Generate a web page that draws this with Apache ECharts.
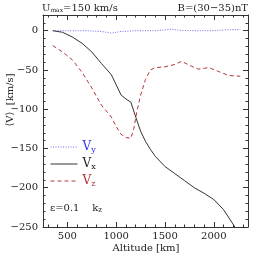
<!DOCTYPE html>
<html>
<head>
<meta charset="utf-8">
<script src="https://cdn.jsdelivr.net/npm/echarts@6/dist/echarts.min.js"></script>
<style>html,body{margin:0;padding:0;background:#fff;}#c{width:258px;height:258px;}</style>
</head>
<body>
<div id="c"></div>
<script>
// ---- data ----
var altVy = [350, 500, 700, 850, 950, 1050, 1200, 1400, 1500, 1550, 1650, 1800, 2000, 2100, 2270];
var vy    = [0, 0, 0, -1, -3, -1, 0, 0, 1, 2, 0.5, 0, 0, 1, 1.5];
var altVx = [350, 450, 550, 650, 750, 850, 950, 1050, 1100, 1150, 1200, 1250, 1300, 1350, 1400, 1500, 1600, 1700, 1800, 1900, 2000, 2100, 2200, 2230];
var vx    = [0, -2, -8, -16, -27, -42, -56, -82, -87, -91, -110, -128, -141, -151, -160, -173, -182, -191, -200, -207, -215, -228, -247, -253];
var altVz = [350, 450, 550, 650, 750, 850, 950, 1000, 1050, 1100, 1150, 1180, 1210, 1250, 1300, 1350, 1400, 1500, 1600, 1670, 1750, 1840, 1950, 2050, 2150, 2270];
var vz    = [-19, -27, -37, -53, -73, -95, -110, -122, -132, -136, -137, -125, -104, -82, -62, -50, -47, -46, -43, -39, -44, -49, -47, -52, -57, -58];
var xMajorTicks = [500, 1000, 1500, 2000];
var xMinorTicks = [300, 400, 600, 700, 800, 900, 1100, 1200, 1300, 1400, 1600, 1700, 1800, 1900, 2100, 2200, 2300];
var yMajorTicks = [-250, -200, -150, -100, -50, 0];
var yMinorTicks = [-240, -230, -220, -210, -190, -180, -170, -160, -140, -130, -120, -110, -90, -80, -70, -60, -40, -30, -20, -10, 10];
var xRange = [250, 2350];
var yRange = [-250, 20];

function pairs(xs, ys) { return xs.map(function (x, i) { return [x, ys[i]]; }); }

var FONT = 'DejaVu Serif';
var TXT = '#222';
var AX = '#333';

function xAx(pos, vals, len, labels, line) {
  return {
    type: 'value', position: pos, min: xRange[0], max: xRange[1],
    axisLine: { show: line, onZero: false, lineStyle: { color: AX, width: 1 } },
    axisTick: { show: true, inside: true, length: len, customValues: vals, lineStyle: { color: AX, width: 1 } },
    axisLabel: { show: labels, customValues: vals, margin: 4, fontFamily: FONT, fontSize: 10, color: TXT,
                 formatter: function (v) { return String(v); } },
    splitLine: { show: false }
  };
}
function yAx(pos, vals, len, labels, line) {
  return {
    type: 'value', position: pos, min: yRange[0], max: yRange[1],
    axisLine: { show: line, onZero: false, lineStyle: { color: AX, width: 1 } },
    axisTick: { show: true, inside: true, length: len, customValues: vals, lineStyle: { color: AX, width: 1 } },
    axisLabel: { show: labels, customValues: vals, margin: 5, fontFamily: FONT, fontSize: 10, color: TXT,
                 formatter: function (v) { return v < 0 ? '\u2212' + Math.abs(v) : String(v); } },
    splitLine: { show: false }
  };
}

var chart = echarts.init(document.getElementById('c'), null, { renderer: 'canvas' });
chart.setOption({
  animation: false,
  backgroundColor: '#fff',
  grid: { left: 43, right: 10, top: 15, bottom: 31, containLabel: false },
  xAxis: [
    xAx('bottom', xMajorTicks, 5, true, true),
    xAx('bottom', xMinorTicks, 2.5, false, false),
    xAx('top', xMajorTicks, 5, false, true),
    xAx('top', xMinorTicks, 2.5, false, false)
  ],
  yAxis: [
    yAx('left', yMajorTicks, 5, true, true),
    yAx('left', yMinorTicks, 2.5, false, false),
    yAx('right', yMajorTicks, 5, false, true),
    yAx('right', yMinorTicks, 2.5, false, false)
  ],
  legend: {
    orient: 'vertical', left: 50, top: 141, padding: 0, itemWidth: 27, itemHeight: 12, itemGap: 4,
    data: ['Vy', 'Vx', 'Vz'],
    itemStyle: { opacity: 0, color: 'rgba(0,0,0,0)', borderWidth: 0 },
    lineStyle: { width: 1 },
    formatter: function (n) {
      var s = n.slice(1);
      return '{' + s + 'V|V}{' + s + 's|' + s + '}';
    },
    textStyle: {
      fontFamily: FONT, fontSize: 11,
      rich: {
        yV: { color: '#3333ee', fontFamily: FONT, fontSize: 12 },
        ys: { color: '#3333ee', fontFamily: FONT, fontSize: 8, verticalAlign: 'bottom', padding: [6, 0, 0, 0] },
        xV: { color: '#222', fontFamily: FONT, fontSize: 12 },
        xs: { color: '#222', fontFamily: FONT, fontSize: 8, verticalAlign: 'bottom', padding: [6, 0, 0, 0] },
        zV: { color: '#b03030', fontFamily: FONT, fontSize: 12 },
        zs: { color: '#b03030', fontFamily: FONT, fontSize: 8, verticalAlign: 'bottom', padding: [6, 0, 0, 0] }
      }
    }
  },
  series: [
    { name: 'Vy', type: 'line', data: pairs(altVy, vy), showSymbol: false, symbol: 'none', clip: true,
      lineStyle: { color: '#6a6af0', width: 1, type: [1, 1.5] }, itemStyle: { color: '#6a6af0' } },
    { name: 'Vx', type: 'line', data: pairs(altVx, vx), showSymbol: false, symbol: 'none', clip: true,
      lineStyle: { color: '#333', width: 1 }, itemStyle: { color: '#333' } },
    { name: 'Vz', type: 'line', data: pairs(altVz, vz), showSymbol: false, symbol: 'none', clip: true,
      lineStyle: { color: '#b03838', width: 1, type: [4, 3] }, itemStyle: { color: '#b03838' } }
  ],
  graphic: [
    { type: 'text', left: 42, top: 3, style: { text: 'U{s|max}=150 km/s', fontFamily: FONT, fontSize: 10, fill: TXT,
        rich: { s: { fontFamily: FONT, fontSize: 6, fill: TXT, verticalAlign: 'bottom', padding: [5, 0, 0, 0] } } } },
    { type: 'text', right: 10, top: 3, style: { text: 'B=(30\u221235)nT', fontFamily: FONT, fontSize: 10, fill: TXT } },
    { type: 'text', left: 50, top: 203, style: { text: '\u03b5=0.1    k{s|z}', fontFamily: FONT, fontSize: 10, fill: TXT,
        rich: { s: { fontFamily: FONT, fontSize: 7, fill: TXT, verticalAlign: 'bottom', padding: [5, 0, 0, 0] } } } },
    { type: 'text', x: 146, y: 248, style: { text: 'Altitude [km]', fontFamily: FONT, fontSize: 10, fill: TXT, align: 'center', verticalAlign: 'middle' } },
    { type: 'text', x: 10, y: 100, rotation: Math.PI / 2, style: { text: '\u27e8V\u27e9  [km/s]', fontFamily: FONT, fontSize: 10, fill: TXT, align: 'center', verticalAlign: 'middle' } }
  ]
});
</script>
</body>
</html>
